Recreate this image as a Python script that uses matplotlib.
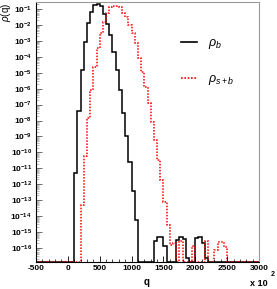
import numpy as np
import matplotlib
matplotlib.use('Agg')
import matplotlib.pyplot as plt
from matplotlib.ticker import FixedLocator, LogLocator, FuncFormatter, MultipleLocator
from matplotlib.lines import Line2D

plt.rcParams['font.family'] = ['Liberation Sans', 'DejaVu Sans']
plt.rcParams['mathtext.fontset'] = 'custom'
plt.rcParams['mathtext.rm'] = 'Liberation Sans'
plt.rcParams['mathtext.it'] = 'Liberation Sans:italic'
plt.rcParams['mathtext.bf'] = 'Liberation Sans:bold'

# --- histogram binning (bin width 50, range -500..3000) ---
x_min, x_max, bin_width = -500, 3000, 50

# log10 of bin contents
black_main_start = 100
black_main_logp = [-11.3, -7.40, -4.83, -3.05, -1.90, -1.17, -0.75, -0.69, -0.79, -1.31,
                   -1.94, -2.63, -3.68, -4.83, -6.08, -7.51, -8.95, -10.62, -12.41, -14.25]
black_bump_starts = [1350, 1700, 2000]
black_bump_logp = [[-15.56, -15.29, -15.29, -15.88],
                   [-15.50, -15.33, -15.46, -16.65],
                   [-15.39, -15.29, -15.69, -16.63]]

red_main_start = 200
red_main_logp = [-13.3, -10.2, -7.84, -6.08, -4.62, -3.47, -2.53, -1.80, -1.27, -0.86,
                 -0.81, -0.79, -0.89, -1.27, -1.48, -2.00, -2.53, -3.15, -4.09, -4.94,
                 -5.88, -6.92, -8.07, -9.22, -10.48, -11.73, -13.10, -14.56, -15.81, -15.70]
red_bump_starts = [1750, 1950, 2150, 2300]
red_bump_logp = [[-15.55],
                 [-15.90],
                 [-15.55],
                 [-16.13, -15.60, -15.60, -15.92]]

y_lo, y_hi = 10 ** -16.88, 10 ** -0.56
y_exponents = list(range(-1, -17, -1))
x_ticks = [-500, 0, 500, 1000, 1500, 2000, 2500, 3000]


def build_hist(main_start, main_logp, bump_starts, bump_logp):
    edges = np.arange(x_min, x_max + bin_width, bin_width)
    vals = np.full(len(edges) - 1, y_lo)
    segs = [(main_start, main_logp)] + list(zip(bump_starts, bump_logp))
    for start, logp in segs:
        i0 = (start - x_min) // bin_width
        vals[i0:i0 + len(logp)] = 10.0 ** np.array(logp)
    return edges, vals


edges, black_vals = build_hist(black_main_start, black_main_logp, black_bump_starts, black_bump_logp)
_, red_vals = build_hist(red_main_start, red_main_logp, red_bump_starts, red_bump_logp)

fig = plt.figure(figsize=(2.77, 2.89), dpi=100)
ax = fig.add_axes([36 / 277, 1 - 262 / 289, 223 / 277, 260 / 289])

dot = (0, (1.0, 1.0))
ax.stairs(black_vals, edges, color='black', lw=1.1, baseline=None)
ax.stairs(red_vals, edges, color='red', lw=1.1, ls=dot, baseline=None)
ax.axvline(x_min, color='red', lw=1.1, ls=dot)

ax.set_yscale('log')
ax.set_xlim(x_min, x_max)
ax.set_ylim(y_lo, y_hi)

ax.yaxis.set_major_locator(FixedLocator([10.0 ** e for e in y_exponents]))
ax.yaxis.set_minor_locator(LogLocator(base=10, subs=np.arange(2, 10) * 1.0, numticks=100))
ax.yaxis.set_major_formatter(FuncFormatter(
    lambda v, p: r'$\mathbf{10^{%d}}$' % round(np.log10(v))))
ax.yaxis.set_minor_formatter(FuncFormatter(lambda v, p: ''))

ax.xaxis.set_minor_locator(MultipleLocator(100))
ax.set_xticks(x_ticks)
ax.set_xticklabels([str(t) for t in x_ticks], fontweight='bold')

ax.tick_params(axis='both', which='both', direction='in', labelsize=6)
ax.tick_params(axis='y', which='major', length=4, width=0.6, pad=3, colors='#555555',
               labelcolor='black')
ax.tick_params(axis='y', which='minor', length=2, width=0.4, colors='#888888')
ax.tick_params(axis='x', which='major', length=4, width=0.6, pad=2)
ax.tick_params(axis='x', which='minor', length=2, width=0.5)

for side in ['top', 'right']:
    ax.spines[side].set_color('#999999')
    ax.spines[side].set_linewidth(0.8)
for side in ['left', 'bottom']:
    ax.spines[side].set_linewidth(0.8)

# legend
handles = [Line2D([], [], color='black', lw=1.2),
           Line2D([], [], color='red', lw=1.2, ls=dot)]
ax.legend(handles, [r'$\rho_{b}$', r'$\rho_{s+b}$'], frameon=False, fontsize=9,
          loc='upper left', bbox_to_anchor=(181 / 277, 1 - 37 / 289),
          bbox_transform=fig.transFigure, borderpad=0, borderaxespad=0,
          handlelength=1.3, handletextpad=0.9, labelspacing=1.75)

# axis titles
fig.text(6 / 277, 1 - 12 / 289, r'$\rho$(q)', rotation=90, ha='center', va='center', fontsize=7)
fig.text(147 / 277, 1 - 282 / 289, 'q', ha='center', va='center', fontsize=7, fontweight='bold')
fig.text(250 / 277, 1 - 283 / 289, 'x 10', ha='left', va='center', fontsize=6.5, fontweight='bold')
fig.text(271 / 277, 1 - 275 / 289, '2', ha='left', va='center', fontsize=5, fontweight='bold')

fig.savefig('out.png', dpi=100)
